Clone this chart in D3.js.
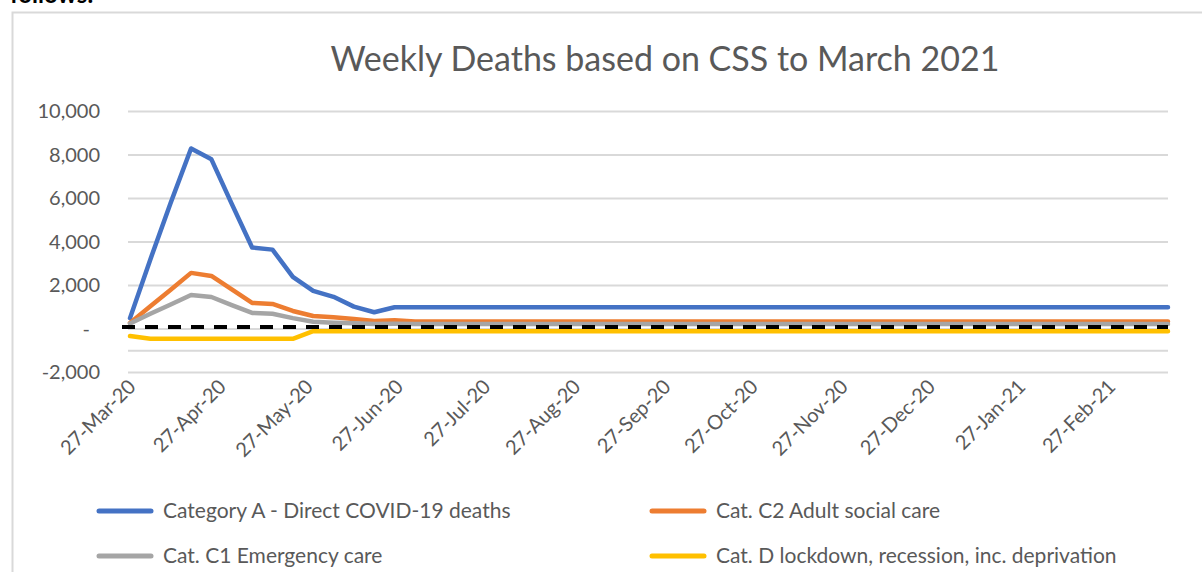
<!DOCTYPE html>
<html>
<head>
<meta charset="utf-8">
<script src="https://cdn.jsdelivr.net/npm/d3@7"></script>
<style>
body { margin: 0; background: #fff; }
svg { display: block; font-family: Lato, "Open Sans", sans-serif; }
</style>
</head>
<body>
<div id="chart"></div>
<script>
// Data (weekly, 27-Mar-20 .. 19-Mar-21)
var firstWeek = "2020-03-27";
var weekCount = 52;

var seriesNames = [
	"Category A - Direct COVID-19 deaths",
	"Cat. C2 Adult social care",
	"Cat. C1 Emergency care",
	"Cat. D lockdown, recession, inc. deprivation"
];

var catA = [500, 3200, 5800, 8300, 7800, 5750, 3750, 3650, 2400, 1750, 1480, 1030, 770, 1000,
	1000, 1000, 1000, 1000, 1000, 1000, 1000, 1000, 1000, 1000, 1000, 1000, 1000, 1000, 1000,
	1000, 1000, 1000, 1000, 1000, 1000, 1000, 1000, 1000, 1000, 1000, 1000, 1000, 1000, 1000,
	1000, 1000, 1000, 1000, 1000, 1000, 1000, 1000];
var catC2 = [280, 1050, 1800, 2580, 2440, 1820, 1200, 1150, 830, 600, 540, 460, 370, 400,
	340, 340, 340, 340, 340, 340, 340, 340, 340, 340, 340, 340, 340, 340, 340,
	340, 340, 340, 340, 340, 340, 340, 340, 340, 340, 340, 340, 340, 340, 340,
	340, 340, 340, 340, 340, 340, 340, 340];
var catC1 = [250, 700, 1130, 1560, 1470, 1100, 740, 700, 500, 330, 290, 260, 230, 240,
	230, 230, 230, 230, 230, 230, 230, 230, 230, 230, 230, 230, 230, 230, 230,
	230, 230, 230, 230, 230, 230, 230, 230, 230, 230, 230, 230, 230, 230, 230,
	230, 230, 230, 230, 230, 230, 230, 230];
var catD = [-320, -450, -450, -450, -450, -450, -450, -450, -450, -100, -100, -100, -100, -100,
	-100, -100, -100, -100, -100, -100, -100, -100, -100, -100, -100, -100, -100, -100, -100,
	-100, -100, -100, -100, -100, -100, -100, -100, -100, -100, -100, -100, -100, -100, -100,
	-100, -100, -100, -100, -100, -100, -100, -100];

var yTicks = [-2000, 0, 2000, 4000, 6000, 8000, 10000];
var axisCross = -1000;
var xTickDates = ["2020-03-27", "2020-04-27", "2020-05-27", "2020-06-27", "2020-07-27",
	"2020-08-27", "2020-09-27", "2020-10-27", "2020-11-27", "2020-12-27", "2021-01-27", "2021-02-27"];

var colors = ["#4472C4", "#ED7D31", "#A5A5A5", "#FFC000"];

var parseDate = d3.timeParse("%Y-%m-%d");
var start = parseDate(firstWeek);
var weeks = d3.range(weekCount).map(function(i) {
	return d3.timeDay.offset(start, i * 7);
});
var allSeries = [catA, catC2, catC1, catD];

var width = 1202, height = 572;

var svg = d3.select("#chart").append("svg")
	.attr("width", width)
	.attr("height", height);

// text cut off above the chart
svg.append("text")
	.attr("x", 10)
	.attr("y", 3)
	.style("font-size", "24px")
	.style("font-weight", "bold")
	.style("fill", "#000")
	.text("follows:");

// chart frame
svg.append("rect")
	.attr("x", 12.5)
	.attr("y", 12.5)
	.attr("width", 1300)
	.attr("height", 700)
	.style("fill", "none")
	.style("stroke", "#d9d9d9")
	.style("stroke-width", 2);

var xScale = d3.scaleTime()
	.domain([weeks[0], weeks[weeks.length - 1]])
	.range([130, 1168]);

var yScale = d3.scaleLinear()
	.domain([-2000, 10000])
	.range([372.5, 111.5]);

// title
svg.append("text")
	.attr("x", 665)
	.attr("y", 71)
	.attr("text-anchor", "middle")
	.style("font-size", "34px")
	.style("fill", "#595959")
	.text("Weekly Deaths based on CSS to March 2021");

// gridlines
svg.append("g")
	.selectAll("line")
	.data(yTicks.concat([axisCross]))
	.enter().append("line")
		.attr("x1", 128)
		.attr("x2", 1168)
		.attr("y1", function(d) { return yScale(d); })
		.attr("y2", function(d) { return yScale(d); })
		.style("stroke", "#d9d9d9")
		.style("stroke-width", 2);

// y axis
var yAxis = svg.append("g")
	.attr("transform", "translate(128,0)")
	.call(d3.axisLeft(yScale)
		.tickValues(yTicks)
		.tickSize(0)
		.tickPadding(28)
		.tickFormat(function(d) {
			return d === 0 ? "-" : d3.format(",")(d).replace("\u2212", "-");
		}));
yAxis.select(".domain").remove();
yAxis.selectAll("text")
	.style("font-size", "20px")
	.style("font-family", "Lato, sans-serif")
	.style("fill", "#595959")
	.attr("dx", function(d) { return d === 0 ? -10 : 0; });

// x axis labels
svg.append("g")
	.selectAll("text")
	.data(xTickDates)
	.enter().append("text")
		.attr("transform", function(d) {
			return "translate(" + (xScale(parseDate(d)) + 2) + ",383) rotate(-45)";
		})
		.attr("text-anchor", "end")
		.attr("dy", "0.35em")
		.style("font-size", "20px")
		.style("fill", "#595959")
		.text(function(d) {
			return d3.timeFormat("%d-%b-%y")(parseDate(d));
		});

// series lines
var line = d3.line()
	.x(function(d, i) { return xScale(weeks[i]); })
	.y(function(d) { return yScale(d); });

svg.append("g")
	.selectAll("path")
	.data(allSeries)
	.enter().append("path")
		.attr("d", function(d) { return line(d); })
		.style("fill", "none")
		.style("stroke", function(d, i) { return colors[i]; })
		.style("stroke-width", 4.5)
		.style("stroke-linejoin", "round")
		.style("stroke-linecap", "round");

// zero reference line
svg.append("line")
	.attr("x1", xScale(weeks[0]) - 8)
	.attr("x2", xScale(weeks[weeks.length - 1]))
	.attr("y1", yScale(0) - 2)
	.attr("y2", yScale(0) - 2)
	.style("stroke", "#000")
	.style("stroke-width", 4)
	.style("stroke-dasharray", "13,10");

// legend
var legendPos = [[97, 511], [650, 511], [97, 556], [650, 556]];
var legendOrder = [0, 1, 2, 3];
var legend = svg.append("g")
	.selectAll("g")
	.data(legendOrder)
	.enter().append("g")
		.attr("transform", function(d, i) {
			return "translate(" + legendPos[i][0] + "," + legendPos[i][1] + ")";
		});
legend.append("line")
	.attr("x1", 2)
	.attr("x2", 54)
	.style("stroke", function(d) { return colors[d]; })
	.style("stroke-width", 5)
	.style("stroke-linecap", "round");
legend.append("text")
	.attr("x", 66)
	.attr("dy", "0.35em")
	.style("font-size", "21px")
	.style("fill", "#595959")
	.text(function(d) { return seriesNames[d]; });
</script>
</body>
</html>
